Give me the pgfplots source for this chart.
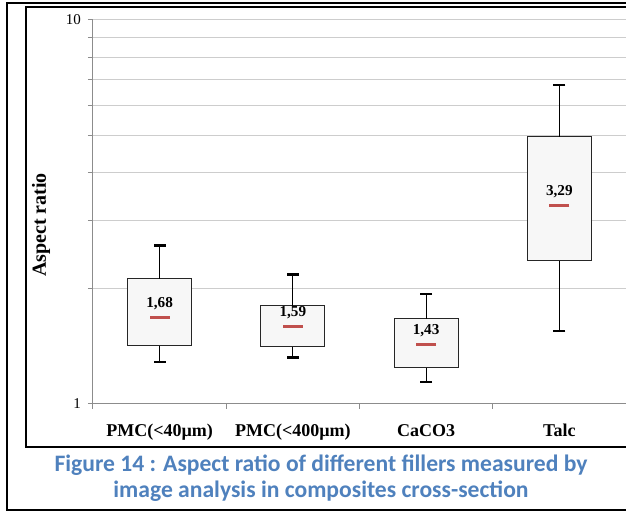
\documentclass[border=0pt]{standalone}
\usepackage{pgfplots}
\pgfplotsset{compat=1.18}
\usepackage{fontspec}
\setmainfont{Liberation Serif}
\newfontfamily\capfont{Carlito}
\definecolor{capblue}{RGB}{79,129,189}
\definecolor{meanred}{RGB}{192,80,77}
\definecolor{gridgray}{RGB}{205,205,205}
\definecolor{axgray}{RGB}{140,140,140}

% one box: position, lower whisker, lower quartile, upper quartile, upper whisker
\newcommand{\fillerbox}[5]{%
  \addplot[draw=black!85, fill=black!3, line width=0.5pt]
    coordinates {(#1-0.24,#3) (#1+0.24,#3) (#1+0.24,#4) (#1-0.24,#4)} -- cycle;
  \addplot[black, line width=0.5pt, mark=-, mark indices={2}, mark size=3pt,
    mark options={line width=1.35pt}] coordinates {(#1,#4) (#1,#5)};
  \addplot[black, line width=0.5pt, mark=-, mark indices={2}, mark size=3pt,
    mark options={line width=1.35pt}] coordinates {(#1,#3) (#1,#2)};
}

\begin{document}
\begin{tikzpicture}
\useasboundingbox (0,0) rectangle (313pt,256pt);
\begin{axis}[
    at={(46.5pt,54pt)}, anchor=south west,
    scale only axis, width=266.5pt, height=192pt,
    ymode=log, ymin=1, ymax=10,
    xmin=-0.5, xmax=3.5,
    axis x line=bottom, axis y line=left,
    axis line style={-, draw=axgray, line width=0.5pt},
    xtick={-0.5,0.5,1.5,2.5,3.5},
    xticklabels={PMC(<40µm), PMC(<400µm), CaCO3, Talc},
    x tick label as interval,
    ytick={1,10}, yticklabels={1,10},
    minor ytick={2,3,4,5,6,7,8,9},
    ymajorgrids, yminorgrids,
    major grid style={gridgray, line width=0.5pt},
    minor grid style={gridgray, line width=0.5pt},
    tick align=outside, major tick length=2.5pt, minor tick length=2.5pt,
    tick style={axgray, line width=0.5pt},
    y tick label style={font=\fontsize{7.5}{9}\selectfont},
    x tick label style={font=\bfseries\fontsize{9}{11}\selectfont, anchor=base, yshift=-14pt},
    ylabel={Aspect ratio},
    ylabel style={font=\bfseries\fontsize{10}{12}\selectfont, at={(axis description cs:-0.0976,0.466)}, anchor=center},
    clip=false,
]
\fillerbox{0}{1.286}{1.416}{2.12}{2.59}  % PMC(<40um)
\fillerbox{1}{1.32}{1.41}{1.80}{2.17}    % PMC(<400um)
\fillerbox{2}{1.141}{1.241}{1.665}{1.934} % CaCO3
\fillerbox{3}{1.55}{2.36}{4.96}{6.77}    % Talc

% mean marks with labels
\addplot[only marks, mark=-, mark size=5pt,
    mark options={line width=1.6pt, draw=meanred},
    nodes near coords, point meta=explicit symbolic,
    nodes near coords style={font=\bfseries\fontsize{7.6}{9}\selectfont,
        anchor=center, yshift=7pt, text=black}]
    table[meta=lab] {
x y lab
0 1.68 1,68
1 1.59 1,59
2 1.43 1,43
3 3.29 3,29
};
\end{axis}

% frames
\draw[line width=0.75pt] (320pt,254.5pt) -- (3.5pt,254.5pt) -- (3.5pt,1pt) -- (320pt,1pt);
\draw[line width=1pt] (320pt,252.5pt) -- (13pt,252.5pt) -- (13pt,32.5pt) -- (320pt,32.5pt);

% caption
\node[anchor=base, font=\capfont\bfseries\fontsize{11.8}{14}\selectfont, text=capblue]
    at (160.5pt,20.25pt) {Figure 14 : Aspect ratio of different fillers measured by};
\node[anchor=base, font=\capfont\bfseries\fontsize{11.8}{14}\selectfont, text=capblue]
    at (160.5pt,7pt) {image analysis in composites cross-section};
\end{tikzpicture}
\end{document}
